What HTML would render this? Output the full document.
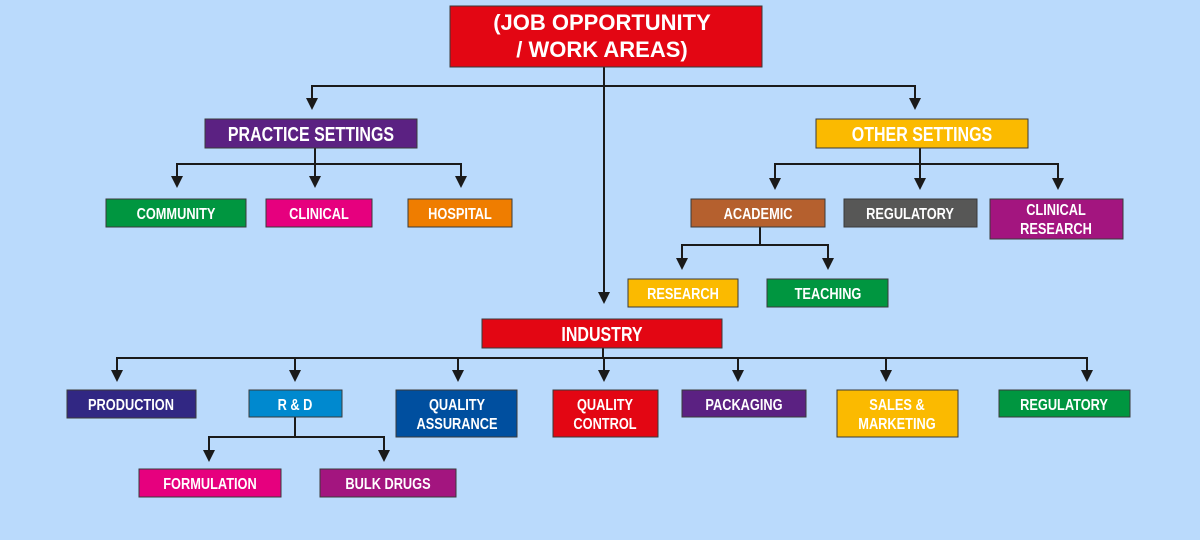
<!DOCTYPE html>
<html><head><meta charset="utf-8"><style>
html,body{margin:0;padding:0;background:#badafc;}
svg{display:block}
.t{font-family:"Liberation Sans",sans-serif;font-weight:bold;font-size:16px;fill:#fff;text-anchor:middle;transform-box:fill-box;transform-origin:center;transform:scaleX(0.8)}
.h{font-family:"Liberation Sans",sans-serif;font-weight:bold;font-size:22px;fill:#fff;text-anchor:middle}
.b{stroke:#3a3a3a;stroke-width:1}
.l{stroke:#1a1a1a;stroke-width:2;fill:none}
.a{fill:#1a1a1a}
</style></head><body>
<svg width="1200" height="540" viewBox="0 0 1200 540" xmlns="http://www.w3.org/2000/svg">
<rect width="1200" height="540" fill="#badafc"/>
<!-- connectors -->
<path class="l" d="M604,67 V294"/>
<path class="l" d="M312,100 V86 H915 V100"/>
<path class="l" d="M315,148 V178 M315,164 H177 V178 M315,164 H461 V178"/>
<path class="l" d="M920,148 V180 M920,164 H775 V180 M920,164 H1058 V180"/>
<path class="l" d="M760,227 V245 H682 V260 M760,245 H828 V260"/>
<path class="l" d="M603,348 V358 H117 V372 M603,358 H1087 V372 M295,358 V372 M458,358 V372 M604,358 V372 M738,358 V372 M886,358 V372"/>
<path class="l" d="M295,417 V437 H209 V452 M295,437 H384 V452"/>
<g class="a">
<polygon points="598,292 610,292 604,304"/>
<polygon points="306,98 318,98 312,110"/>
<polygon points="909,98 921,98 915,110"/>
<polygon points="171,176 183,176 177,188"/>
<polygon points="309,176 321,176 315,188"/>
<polygon points="455,176 467,176 461,188"/>
<polygon points="769,178 781,178 775,190"/>
<polygon points="914,178 926,178 920,190"/>
<polygon points="1052,178 1064,178 1058,190"/>
<polygon points="676,258 688,258 682,270"/>
<polygon points="822,258 834,258 828,270"/>
<polygon points="111,370 123,370 117,382"/>
<polygon points="289,370 301,370 295,382"/>
<polygon points="452,370 464,370 458,382"/>
<polygon points="598,370 610,370 604,382"/>
<polygon points="732,370 744,370 738,382"/>
<polygon points="880,370 892,370 886,382"/>
<polygon points="1081,370 1093,370 1087,382"/>
<polygon points="203,450 215,450 209,462"/>
<polygon points="378,450 390,450 384,462"/>
</g>
<!-- boxes -->
<rect class="b" x="450" y="6" width="312" height="61" fill="#e30613"/>
<text class="h" x="602" y="30">(JOB OPPORTUNITY</text>
<text class="h" x="602" y="57">/ WORK AREAS)</text>
<rect class="b" x="205" y="119" width="212" height="29" fill="#5b2182"/><text class="t" x="311" y="141" style="font-size:20px">PRACTICE SETTINGS</text>
<rect class="b" x="816" y="119" width="212" height="29" fill="#fbba00"/><text class="t" x="922" y="141" style="font-size:20px">OTHER SETTINGS</text>
<rect class="b" x="106" y="199" width="140" height="28" fill="#009640"/><text class="t" x="176" y="219">COMMUNITY</text>
<rect class="b" x="266" y="199" width="106" height="28" fill="#e6007e"/><text class="t" x="319" y="219">CLINICAL</text>
<rect class="b" x="408" y="199" width="104" height="28" fill="#ef7d00"/><text class="t" x="460" y="219">HOSPITAL</text>
<rect class="b" x="691" y="199" width="134" height="28" fill="#b5602e"/><text class="t" x="758" y="219">ACADEMIC</text>
<rect class="b" x="844" y="199" width="133" height="28" fill="#575756"/><text class="t" x="910" y="219">REGULATORY</text>
<rect class="b" x="990" y="199" width="133" height="40" fill="#a3157f"/><text class="t" x="1056" y="215">CLINICAL</text><text class="t" x="1056" y="234">RESEARCH</text>
<rect class="b" x="628" y="279" width="110" height="28" fill="#fbba00"/><text class="t" x="683" y="299">RESEARCH</text>
<rect class="b" x="767" y="279" width="121" height="28" fill="#009640"/><text class="t" x="828" y="299">TEACHING</text>
<rect class="b" x="482" y="319" width="240" height="29" fill="#e30613"/><text class="t" x="602" y="341" style="font-size:20px">INDUSTRY</text>
<rect class="b" x="67" y="390" width="129" height="28" fill="#312783"/><text class="t" x="131" y="410">PRODUCTION</text>
<rect class="b" x="249" y="390" width="93" height="27" fill="#0089cf"/><text class="t" x="295" y="410">R &amp; D</text>
<rect class="b" x="396" y="390" width="121" height="47" fill="#004f9f"/><text class="t" x="457" y="410">QUALITY</text><text class="t" x="457" y="429">ASSURANCE</text>
<rect class="b" x="553" y="390" width="105" height="47" fill="#e30613"/><text class="t" x="605" y="410">QUALITY</text><text class="t" x="605" y="429">CONTROL</text>
<rect class="b" x="682" y="390" width="124" height="27" fill="#5b2182"/><text class="t" x="744" y="410">PACKAGING</text>
<rect class="b" x="837" y="390" width="121" height="47" fill="#fbba00"/><text class="t" x="897" y="410">SALES &amp;</text><text class="t" x="897" y="429">MARKETING</text>
<rect class="b" x="999" y="390" width="131" height="27" fill="#009640"/><text class="t" x="1064" y="410">REGULATORY</text>
<rect class="b" x="139" y="469" width="142" height="28" fill="#e6007e"/><text class="t" x="210" y="489">FORMULATION</text>
<rect class="b" x="320" y="469" width="136" height="28" fill="#a3157f"/><text class="t" x="388" y="489">BULK DRUGS</text>
</svg>
</body></html>
